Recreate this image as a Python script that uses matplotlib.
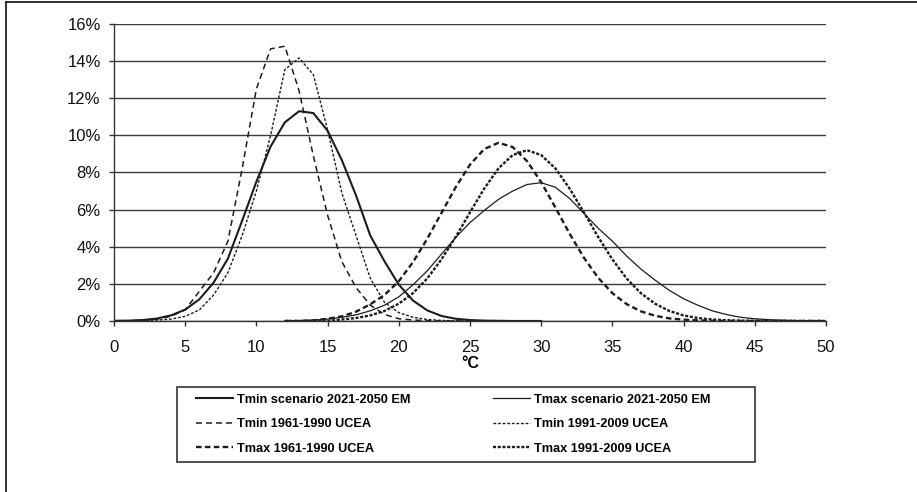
import matplotlib
matplotlib.use("Agg")
import matplotlib.pyplot as plt
import numpy as np
from matplotlib.lines import Line2D
from matplotlib.ticker import PercentFormatter

plt.rcParams['font.family'] = ['Liberation Sans', 'DejaVu Sans']
plt.rcParams['lines.scale_dashes'] = False

# temperature classes (deg C) and share of days (%)
temps = list(range(0, 51))

tmin_scen = [0.01, 0.02, 0.05, 0.13, 0.30, 0.61, 1.17, 2.07, 3.36, 5.40,
             7.50, 9.40, 10.70, 11.30, 11.20, 10.25, 8.67, 6.76, 4.60, 3.21,
             1.96, 1.10, 0.57, 0.27, 0.12, 0.05, 0.02, 0.01, 0.0, 0.0,
             0.0] + [None] * 20
tmax_scen = [None] * 12 + [
             0.01, 0.02, 0.05, 0.10, 0.20, 0.33, 0.55, 0.85,
             1.30, 1.95, 2.70, 3.60, 4.50, 5.30, 5.95, 6.55, 7.00, 7.35,
             7.45, 7.20, 6.60, 5.80, 5.00, 4.30, 3.50, 2.80, 2.20, 1.65,
             1.20, 0.85, 0.55, 0.35, 0.20, 0.12, 0.07, 0.04, 0.02, 0.01,
             0.0]
tmin_6190 = [0.0, 0.01, 0.04, 0.10, 0.25, 0.60, 1.60, 2.60, 4.30, 8.20,
             12.50, 14.66, 14.80, 12.40, 8.90, 5.70, 3.20, 1.80, 0.85, 0.35,
             0.12, 0.05, 0.02, 0.0, 0.0, 0.0, 0.0, 0.0, 0.0, 0.0,
             0.0] + [None] * 20
tmin_9109 = [0.0, 0.01, 0.02, 0.05, 0.10, 0.25, 0.60, 1.40, 2.60, 4.60,
             7.00, 10.00, 13.54, 14.17, 13.27, 10.30, 6.90, 4.60, 2.30, 1.00,
             0.45, 0.20, 0.08, 0.03, 0.01, 0.0, 0.0, 0.0, 0.0, 0.0,
             0.0] + [None] * 20
tmax_6190 = [None] * 12 + [
             0.0, 0.0, 0.03, 0.12, 0.25, 0.50, 0.90, 1.40,
             2.14, 3.17, 4.43, 5.82, 7.21, 8.42, 9.26, 9.60, 9.37, 8.62,
             7.48, 6.11, 4.70, 3.41, 2.33, 1.50, 0.91, 0.52, 0.28, 0.14,
             0.07, 0.03, 0.01, 0.0, 0.0, 0.0, 0.0, 0.0, 0.0, 0.0,
             0.0]
tmax_9109 = [None] * 12 + [
             0.0, 0.0, 0.0, 0.0, 0.08, 0.16, 0.30, 0.54,
             0.93, 1.50, 2.29, 3.32, 4.53, 5.85, 7.13, 8.22, 8.94, 9.20,
             8.94, 8.22, 7.13, 5.85, 4.53, 3.32, 2.29, 1.50, 0.93, 0.54,
             0.30, 0.16, 0.08, 0.04, 0.02, 0.01, 0.0, 0.0, 0.0, 0.0,
             0.0]

labels = ["Tmin scenario 2021-2050 EM", "Tmax scenario 2021-2050 EM",
          "Tmin 1961-1990 UCEA", "Tmin 1991-2009 UCEA",
          "Tmax 1961-1990 UCEA", "Tmax 1991-2009 UCEA"]
yticks = [0, 2, 4, 6, 8, 10, 12, 14, 16]
xticks = [0, 5, 10, 15, 20, 25, 30, 35, 40, 45, 50]

ink = '#1c1c1c'
series = [
    (tmin_scen, dict(lw=1.5, ls='-')),
    (tmax_scen, dict(lw=0.9, ls='-')),
    (tmin_6190, dict(lw=1.1, ls=(0, (4.3, 2.9)))),
    (tmin_9109, dict(lw=1.0, ls=(0, (2.0, 1.3)))),
    (tmax_6190, dict(lw=1.7, ls=(0, (4.0, 2.4)))),
    (tmax_9109, dict(lw=1.7, ls=(0, (2.2, 1.2)))),
]

fig = plt.figure(figsize=(9.17, 4.92), dpi=100)
ax = fig.add_axes([0.1243, 0.3476, 0.7764, 0.6037])

handles = []
for (vals, st), lab in zip(series, labels):
    y = np.array(vals, dtype=float)
    line, = ax.plot(temps, y, color=ink, label=lab, **st)
    handles.append(line)

ax.set_xlim(0, 50)
ax.set_ylim(0, 16)
ax.set_xticks(xticks)
ax.set_yticks(yticks)
ax.yaxis.set_major_formatter(PercentFormatter(100, decimals=0))
ax.grid(axis='y', color='#3a3a3a', lw=1.0)
ax.set_axisbelow(True)
for s in ['top', 'right']:
    ax.spines[s].set_visible(False)
for s in ['left', 'bottom']:
    ax.spines[s].set_color('#333333')
    ax.spines[s].set_linewidth(1.0)
ax.tick_params(axis='both', direction='out', length=3.6, width=1.0,
               color='#333333', labelsize=12, labelcolor='#111111')
ax.tick_params(axis='x', pad=10)
ax.tick_params(axis='y', pad=6)
ax.set_xlabel('°C', fontsize=11.5, fontweight='bold', labelpad=1)

# legend: first column Tmin scen / Tmin 61-90 / Tmax 61-90
order = [0, 2, 4, 1, 3, 5]
fig.legend([handles[i] for i in order], [labels[i] for i in order],
           loc='upper left', bbox_to_anchor=(0.2137, 0.200), ncol=2,
           frameon=False, prop={'size': 9.2, 'weight': 'bold'},
           handlelength=2.9, handletextpad=0.3, columnspacing=6.5,
           labelspacing=0.98, borderpad=0, borderaxespad=0)

fig.patches.append(plt.Rectangle((177 / 917, 1 - 462 / 492), 578 / 917, 75 / 492,
                                 transform=fig.transFigure, fill=False,
                                 ec='#333333', lw=1.2))
# outer frame (top and left edges)
fig.add_artist(Line2D([6 / 917, 6 / 917], [0, 1 - 1.5 / 492],
                      transform=fig.transFigure, color='#222222', lw=1.3))
fig.add_artist(Line2D([6 / 917, 1], [1 - 1.5 / 492, 1 - 1.5 / 492],
                      transform=fig.transFigure, color='#222222', lw=1.3))

fig.savefig('out.png', dpi=100)
